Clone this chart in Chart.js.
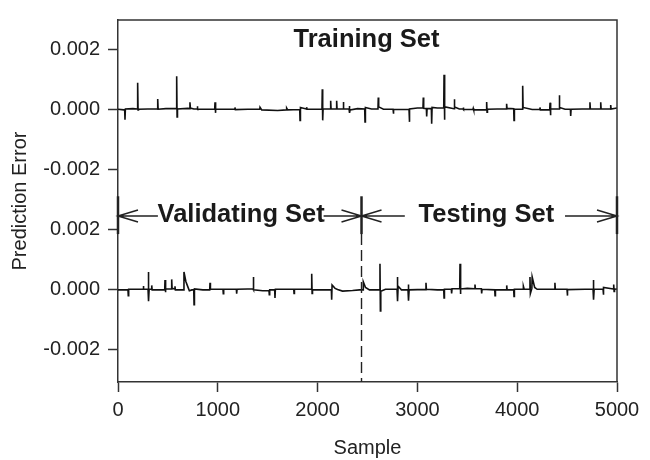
<!DOCTYPE html>
<html>
<head>
<meta charset="utf-8">
<script src="https://cdn.jsdelivr.net/npm/chart.js@4/dist/chart.umd.min.js"></script>
<style>
    body { margin: 0; background: #fff; }
    canvas { display: block; }
</style>
</head>
<body>
<canvas id="errorChart" width="650" height="460"></canvas>
<script>
// [sample, prediction error]

// Training set (upper panel)
var trainPoints = [
    [0, 0.00002], [60, 0.0], [67, 0.0], [70, -0.00033], [74, 0.00003], [150, 0.00004], [194, 0.00003], [197, 0.0009],
    [201, 0.0], [205, 0.00002], [300, 0.00003], [395, 0.00003], [398, 0.00036], [402, 0.00002], [480, 0.00004],
    [585, 0.00004], [588, 0.00112], [592, -0.00024], [596, 0.00003], [700, 0.00005], [718, 0.00004], [721, 0.00025],
    [725, 0.00006], [760, 0.00003], [792, 0.00003], [795, 0.00012], [799, 0.00002], [900, 0.00002], [969, 0.00002],
    [972, 0.00025], [976, -0.0001], [980, 0.00002], [1100, 0.00002], [1169, 0.00002], [1172, 0.00008], [1176, 0.00001],
    [1300, 0.00002], [1420, 0.00002], [1423, 0.00009], [1440, 0.0], [1600, -0.00002], [1687, 0.0], [1690, 0.00006],
    [1700, 0.0], [1821, 0.00001], [1824, -0.00035], [1828, 0.00008], [1887, 0.00003], [1890, 0.00009], [1894, 0.00002],
    [1960, 0.00002], [2044, 0.00002], [2047, 0.00069], [2051, -0.00035], [2055, 0.00003], [2128, 0.00003], [2131, 0.0003],
    [2135, 0.00003], [2188, 0.00003], [2191, 0.0003], [2195, 0.00003], [2255, 0.00003], [2258, 0.00026], [2262, 0.00003],
    [2315, 0.00003], [2318, 0.00013], [2322, -0.0001], [2326, 0.0], [2400, 0.00004], [2472, 0.00003], [2475, -0.0004],
    [2479, 0.00008], [2540, 0.00003], [2605, 0.00003], [2608, 0.00041], [2612, 0.0001], [2660, 0.00002], [2756, 0.00002],
    [2759, -0.00013], [2763, 0.00002], [2850, 0.00001], [2916, 0.00002], [2919, -0.0004], [2923, 0.00003], [3000, 0.00006],
    [3056, 0.00006], [3059, 0.00041], [3063, 0.00005], [3090, 0.00004], [3093, -0.00022], [3097, 0.00004], [3140, 0.00004],
    [3143, -0.00046], [3147, 0.00008], [3200, 0.00006], [3264, 0.00006], [3267, 0.00117], [3271, -0.00033], [3275, 0.0001],
    [3367, 0.00004], [3370, 0.00035], [3374, 0.0001], [3420, 0.00003], [3457, 0.00003], [3460, 0.00008], [3464, 0.00001],
    [3557, 0.00001], [3560, 0.00005], [3564, 0.0], [3691, 0.0], [3694, 0.00026], [3698, -0.00008], [3702, 0.00002],
    [3800, 0.00003], [3891, 0.00003], [3894, 0.0002], [3898, 0.00005], [3965, 0.00004], [3968, -0.00035], [3972, 0.00002],
    [4052, 0.00002], [4055, 0.0008], [4059, 0.00008], [4150, 0.00001], [4225, 0.00001], [4228, 0.00008], [4232, 0.0],
    [4326, 0.0], [4329, 0.00024], [4333, -0.00018], [4337, 0.00003], [4419, 0.00003], [4422, 0.00049], [4426, 0.00008],
    [4480, 0.00002], [4533, 0.00002], [4536, -0.0002], [4540, 0.00002], [4650, 0.00003], [4726, 0.00003], [4729, 0.00025],
    [4733, 0.00003], [4834, 0.00003], [4837, 0.00025], [4841, 0.00003], [4934, 0.00003], [4937, 0.00016], [4941, 0.00003],
    [5000, 0.00006]
];

// Validating set (lower panel, left of the split)
var validPoints = [
    [0, 0.0], [100, 0.0], [103, -0.00019], [107, 0.00002], [200, 0.00002], [251, 0.00002], [254, 0.00013], [258, 0.00002],
    [301, 0.00002], [304, 0.0006], [308, -0.00038], [312, 0.00002], [335, 0.00002], [338, 0.00015], [342, 0.0], [420, 0.0],
    [468, 0.0], [471, 0.00033], [475, -0.00008], [479, 0.00003], [535, 0.00003], [538, 0.00035], [542, 0.00005],
    [568, 0.00003], [571, 0.00012], [575, 0.0], [640, 0.0], [658, 0.0], [661, 0.0006], [680, 0.00028], [700, 0.0001],
    [715, -0.00003], [740, 0.0], [759, 0.0], [762, -0.00049], [766, 0.00003], [850, 0.0], [919, 0.0], [922, 0.00024],
    [926, 0.00002], [1052, 0.00002], [1055, -0.00013], [1059, 0.00002], [1186, 0.00002], [1189, -0.00013], [1193, 0.00002],
    [1300, 0.00003], [1353, 0.00003], [1356, 0.00043], [1360, 0.0], [1450, -0.00003], [1513, -0.00003], [1516, -0.00016],
    [1520, 0.0], [1570, 0.0], [1573, -0.00027], [1577, 0.00002], [1700, 0.00002], [1761, 0.00002], [1764, -0.00012],
    [1768, 0.00002], [1938, 0.00002], [1941, 0.00054], [1945, -0.00012], [1949, 0.0], [2138, 0.0], [2141, -0.00033],
    [2145, 0.00016], [2175, 0.00005], [2200, 0.00001], [2250, -0.00004], [2350, -0.00002], [2420, 0.0], [2440, 0.0]
];

// Testing set (lower panel, right of the split)
var testPoints = [
    [2440, 0.0], [2455, 0.0], [2458, 0.00027], [2480, 0.00008], [2520, 0.0], [2622, 0.0], [2625, 0.00087], [2629, -0.0007],
    [2633, -0.00005], [2680, 0.00002], [2796, 0.00002], [2799, 0.00043], [2803, -0.00038], [2807, 0.00012], [2840, 0.0],
    [2906, 0.0], [2909, 0.00018], [2913, -0.00036], [2917, 0.0], [3000, 0.00001], [3083, 0.00001], [3086, 0.00024],
    [3090, 0.00002], [3200, 0.0], [3264, 0.0], [3267, -0.00027], [3271, 0.00002], [3340, 0.00002], [3343, -0.00012],
    [3347, 0.00004], [3424, 0.00004], [3427, 0.00087], [3431, -0.00014], [3435, 0.00003], [3500, 0.00005], [3574, 0.00004],
    [3577, 0.00018], [3581, 0.00004], [3641, 0.00004], [3644, -0.00012], [3648, 0.00002], [3775, 0.0], [3778, -0.00019],
    [3782, 0.0], [3892, 0.0], [3895, 0.00015], [3899, 0.0], [3965, 0.0], [3968, -0.00022], [3972, 0.00002], [4059, 0.00002],
    [4062, 0.00012], [4070, 0.00002], [4125, 0.00002], [4128, 0.00043], [4132, -0.00012], [4147, 0.00005], [4150, 0.00043],
    [4175, 0.00008], [4200, 0.00002], [4375, 0.00002], [4378, 0.00024], [4382, 0.00002], [4499, 0.00002], [4502, -0.00019],
    [4506, 0.00001], [4680, 0.00002], [4760, 0.00002], [4763, 0.00033], [4767, -0.00033], [4771, 0.00002], [4860, 0.00002],
    [4863, -0.00016], [4867, 0.00008], [4964, 0.00003], [4967, 0.00018], [4971, -0.00005], [4975, 0.00002], [5000, 0.00003]
];

var xTicks = [0, 1000, 2000, 3000, 4000, 5000];
var yTicks = [-0.002, 0, 0.002, 0.004, 0.006, 0.008];
var panelOffset = 0.006;   // upper panel sits this much higher on the shared y axis
var splitSample = 2440;

var chart;

function toPoints(pairs, offset)
{
    return pairs.map(function (p) { return { x: p[0], y: p[1] + offset }; });
}

function tickLabel(v)
{
    var shown = v > 0.003 ? v - panelOffset : v;
    return shown.toFixed(3);
}

// frame, set labels, arrows and the dashed split line
var setMarks = {
    id: 'setMarks',
    afterDatasetsDraw: function (c) {
        var ctx = c.ctx, xs = c.scales.x, ys = c.scales.y, a = c.chartArea;
        var px = function (v) { return xs.getPixelForValue(v); };
        var py = function (v) { return ys.getPixelForValue(v); };
        ctx.save();

        ctx.strokeStyle = '#333';
        ctx.lineWidth = 1.5;
        ctx.beginPath();
        ctx.moveTo(a.left, a.top);
        ctx.lineTo(a.right, a.top);
        ctx.lineTo(a.right, a.bottom);
        ctx.stroke();

        ctx.fillStyle = '#1a1a1a';
        ctx.font = 'bold 25.5px "Liberation Sans", Arial, sans-serif';
        ctx.textAlign = 'center';
        ctx.textBaseline = 'middle';
        ctx.fillText('Training Set', px(2490), py(0.00834));
        ctx.fillText('Validating Set', px(1234), py(0.0025));
        ctx.fillText('Testing Set', px(3691), py(0.0025));

        var arrowY = 0.00246;
        var arrows = [[400, 0], [2060, splitSample], [2874, splitSample], [4479, 5000]];
        ctx.strokeStyle = '#222';
        ctx.lineWidth = 1.5;
        arrows.forEach(function (ar) {
            var x0 = px(ar[0]), x1 = px(ar[1]), y = py(arrowY);
            var dir = x1 > x0 ? 1 : -1;
            ctx.beginPath();
            ctx.moveTo(x0, y);
            ctx.lineTo(x1, y);
            ctx.moveTo(x1 - dir * 20, y - 6);
            ctx.lineTo(x1, y);
            ctx.lineTo(x1 - dir * 20, y + 6);
            ctx.stroke();
        });

        ctx.lineWidth = 2.5;
        [0, splitSample, 5000].forEach(function (s) {
            ctx.beginPath();
            ctx.moveTo(px(s), py(0.00312));
            ctx.lineTo(px(s), py(0.00186));
            ctx.stroke();
        });

        ctx.lineWidth = 1.4;
        ctx.setLineDash([11, 5]);
        ctx.beginPath();
        ctx.moveTo(px(splitSample), py(0.00186));
        ctx.lineTo(px(splitSample), a.bottom);
        ctx.stroke();
        ctx.restore();
    }
};

function createChart()
{
    if (chart) chart.destroy();

    var lineStyle = {
        borderColor: '#111',
        borderWidth: 1.6,
        pointRadius: 0,
        fill: false,
        tension: 0
    };
    var font = '"Liberation Sans", Arial, sans-serif';

    var config = {
        type: 'line',
        data: {
            datasets: [
                Object.assign({ label: 'Training', data: toPoints(trainPoints, panelOffset) }, lineStyle),
                Object.assign({ label: 'Validating', data: toPoints(validPoints, 0) }, lineStyle),
                Object.assign({ label: 'Testing', data: toPoints(testPoints, 0) }, lineStyle)
            ]
        },
        options: {
            responsive: false,
            devicePixelRatio: 1,
            animation: false,
            layout: { padding: { top: 11, right: 33, left: 0, bottom: 0 } },
            plugins: {
                legend: { display: false },
                tooltip: { enabled: false }
            },
            scales: {
                x: {
                    type: 'linear',
                    min: 0,
                    max: 5000,
                    afterBuildTicks: function (s) { s.ticks = xTicks.map(function (v) { return { value: v }; }); },
                    afterFit: function (s) { s.height = 78; },
                    grid: { drawOnChartArea: false, tickLength: 10, tickColor: '#333', tickWidth: 1.5 },
                    border: { color: '#333', width: 1.5 },
                    ticks: {
                        color: '#222',
                        padding: 6,
                        maxRotation: 0,
                        callback: function (v) { return String(v); },
                        font: { family: font, size: 20 }
                    },
                    title: {
                        display: true,
                        text: 'Sample',
                        color: '#222',
                        padding: { top: 0, bottom: 0 },
                        font: { family: font, size: 20 }
                    }
                },
                y: {
                    type: 'linear',
                    min: -0.00307,
                    max: 0.008995,
                    afterBuildTicks: function (s) { s.ticks = yTicks.map(function (v) { return { value: v }; }); },
                    afterFit: function (s) { s.width = 118; },
                    grid: { drawOnChartArea: false, tickLength: 10, tickColor: '#333', tickWidth: 1.5 },
                    border: { color: '#333', width: 1.5 },
                    ticks: {
                        color: '#222',
                        padding: 8,
                        callback: tickLabel,
                        font: { family: font, size: 20 }
                    },
                    title: {
                        display: true,
                        text: 'Prediction Error',
                        color: '#222',
                        padding: { top: 8, bottom: 0 },
                        font: { family: font, size: 20 }
                    }
                }
            }
        },
        plugins: [setMarks]
    };

    var ctx = document.getElementById('errorChart').getContext('2d');
    chart = new Chart(ctx, config);
}

createChart();
</script>
</body>
</html>
